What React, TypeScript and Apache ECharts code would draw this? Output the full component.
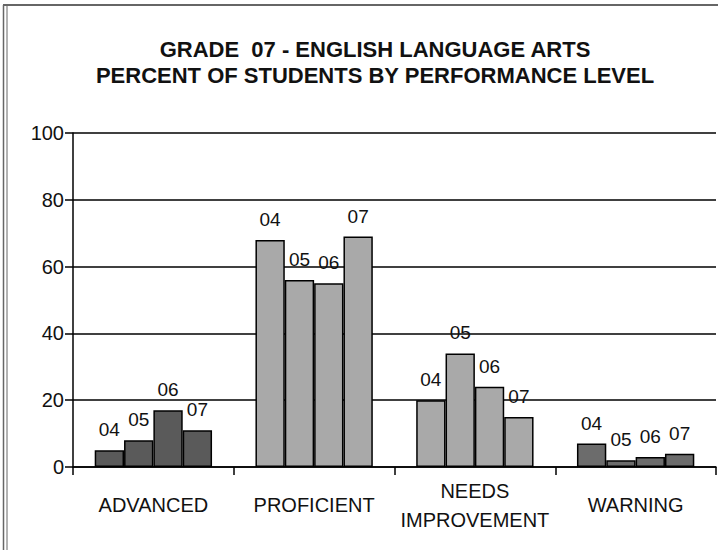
import React, { useEffect, useRef } from "react";
import * as echarts from "echarts";

const categories = ["ADVANCED", "PROFICIENT", "NEEDS\nIMPROVEMENT", "WARNING"];
const years = ["04", "05", "06", "07"];
const yr04 = [5, 68, 20, 7];
const yr05 = [8, 56, 34, 2];
const yr06 = [17, 55, 24, 3];
const yr07 = [11, 69, 15, 4];
const categoryColors = ["#5a5a5a", "#a9a9a9", "#a9a9a9", "#6c6c6c"];
const yTicks = [0, 20, 40, 60, 80, 100];

export default function App() {
  const ref = useRef<HTMLDivElement>(null);
  useEffect(() => {
    document.body.style.margin = "0";
    const chart = echarts.init(ref.current!, null, { renderer: "svg" });
    const seriesData = [yr04, yr05, yr06, yr07];
    chart.setOption({
      animation: false,
      backgroundColor: "#ffffff",
      title: {
        text: "GRADE  07 - ENGLISH LANGUAGE ARTS\nPERCENT OF STUDENTS BY PERFORMANCE LEVEL",
        left: 370,
        textAlign: "center",
        top: 31,
        textStyle: {
          fontFamily: "'Liberation Sans', Arial, sans-serif",
          fontWeight: "bold",
          fontSize: 22,
          lineHeight: 26,
          color: "#111",
        },
      },
      graphic: [
        { type: "line", shape: { x1: 3.5, y1: 5, x2: 3.5, y2: 550 }, style: { stroke: "#666", lineWidth: 1.5 } },
        { type: "line", shape: { x1: 7, y1: 5, x2: 7, y2: 550 }, style: { stroke: "#666", lineWidth: 1 } },
        { type: "line", shape: { x1: 3, y1: 5, x2: 718, y2: 5 }, style: { stroke: "#666", lineWidth: 2 } },
      ],
      grid: { left: 73, right: 2, top: 133, bottom: 83, containLabel: false },
      xAxis: {
        type: "category",
        data: categories,
        axisLine: { lineStyle: { color: "#000", width: 1.5 } },
        axisTick: { show: true, length: 8, lineStyle: { color: "#000", width: 1.5 } },
        axisLabel: {
          interval: 0,
          color: "#111",
          fontSize: 20,
          fontFamily: "'Liberation Sans', Arial, sans-serif",
          margin: 38,
          lineHeight: 29,
          verticalAlign: "middle",
        },
      },
      yAxis: {
        type: "value",
        min: 0,
        max: 100,
        interval: 20,
        axisLine: { show: true, lineStyle: { color: "#000", width: 1.5 } },
        axisTick: { show: true, length: 8, lineStyle: { color: "#000", width: 1.5 } },
        axisLabel: {
          color: "#111",
          fontSize: 20,
          fontFamily: "'Liberation Sans', Arial, sans-serif",
          margin: 9,
          formatter: (v: number) => (yTicks.includes(v) ? String(v) : ""),
        },
        splitLine: { show: true, lineStyle: { color: "#000", width: 1.5 } },
      },
      series: seriesData.map((arr, si) => ({
        type: "bar",
        name: years[si],
        barGap: "0%",
        barCategoryGap: "27%",
        data: arr.map((v, ci) => ({
          value: v,
          itemStyle: { color: categoryColors[ci], borderColor: "#000", borderWidth: 1.5 },
        })),
        label: {
          show: true,
          position: "top",
          distance: 11,
          formatter: () => years[si],
          color: "#111",
          fontSize: 19,
          fontFamily: "'Liberation Sans', Arial, sans-serif",
        },
      })),
    });
    return () => chart.dispose();
  }, []);
  return <div ref={ref} style={{ width: 718, height: 550 }} />;
}
